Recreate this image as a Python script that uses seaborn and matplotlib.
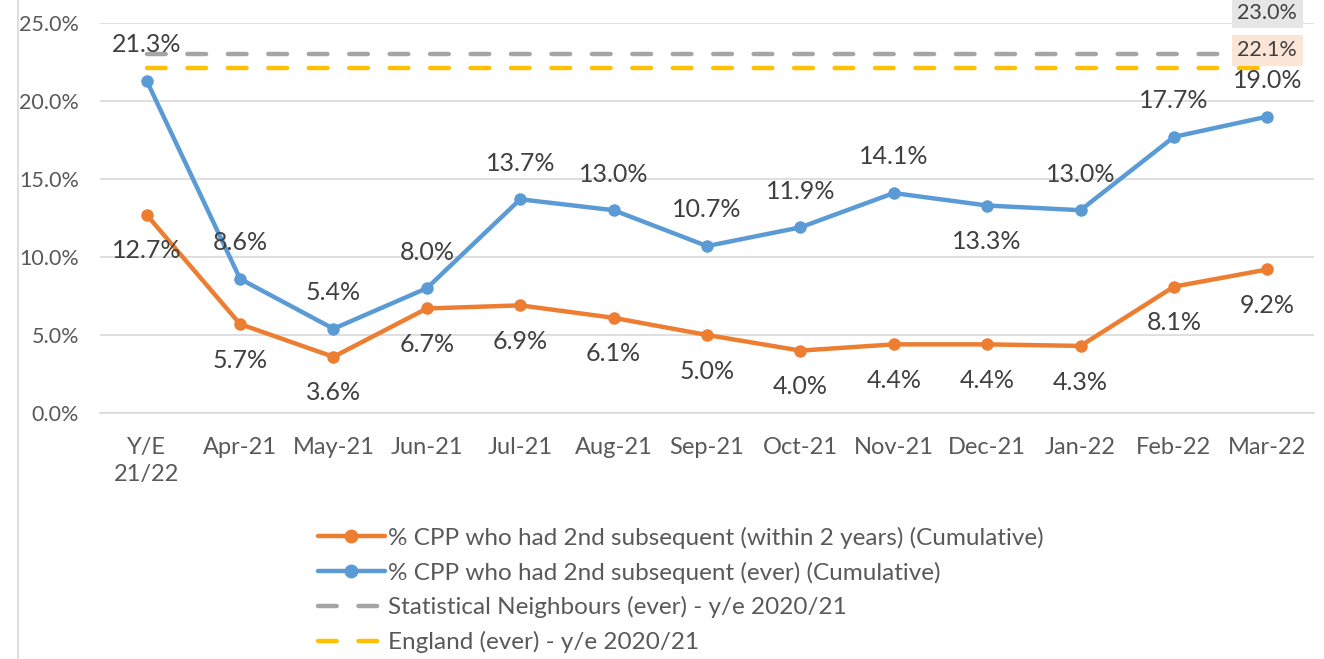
import numpy as np
import pandas as pd
import seaborn as sns
import matplotlib.pyplot as plt
from matplotlib.lines import Line2D
from matplotlib.ticker import PercentFormatter

# data
months = ['Y/E\n21/22', 'Apr-21', 'May-21', 'Jun-21', 'Jul-21', 'Aug-21', 'Sep-21',
          'Oct-21', 'Nov-21', 'Dec-21', 'Jan-22', 'Feb-22', 'Mar-22']
within_2yrs = [12.7, 5.7, 3.6, 6.7, 6.9, 6.1, 5.0, 4.0, 4.4, 4.4, 4.3, 8.1, 9.2]
ever = [21.3, 8.6, 5.4, 8.0, 13.7, 13.0, 10.7, 11.9, 14.1, 13.3, 13.0, 17.7, 19.0]
stat_neighbours = 23.0
england = 22.1
# label above (+1) or below (-1) the blue point
ever_label_side = [1, 1, 1, 1, 1, 1, 1, 1, 1, -1, 1, 1, 1]

names = ['% CPP who had 2nd subsequent (within 2 years) (Cumulative)',
         '% CPP who had 2nd subsequent (ever) (Cumulative)',
         'Statistical Neighbours (ever) - y/e 2020/21',
         'England (ever) - y/e 2020/21']
colors = ['#ED7D31', '#5B9BD5', '#A5A5A5', '#FFC000']

sns.set_style('white')
plt.rcParams['font.family'] = ['Lato', 'DejaVu Sans']
txt = '#595959'
lbl = '#404040'

df = pd.DataFrame({'x': np.arange(len(months)), 'within': within_2yrs, 'ever': ever,
                   'sn': stat_neighbours, 'eng': england})

fig = plt.figure(figsize=(13.24, 6.59), dpi=100)
ax = fig.add_axes([100 / 1324, 1 - 413 / 659, 1214 / 1324, 390 / 659])

dash = (4.2, 4.9)
sns.lineplot(data=df, x='x', y='sn', ax=ax, color=colors[2], lw=3.2)
ax.lines[-1].set_dashes(dash)
ax.lines[-1].set_dash_capstyle('round')
sns.lineplot(data=df, x='x', y='eng', ax=ax, color=colors[3], lw=3.2)
ax.lines[-1].set_dashes(dash)
ax.lines[-1].set_dash_capstyle('round')
sns.lineplot(data=df, x='x', y='within', ax=ax, color=colors[0], lw=3.2,
             marker='o', markersize=9, markeredgewidth=0)
sns.lineplot(data=df, x='x', y='ever', ax=ax, color=colors[1], lw=3.2,
             marker='o', markersize=9, markeredgewidth=0)

ax.set_xlim(-0.5, len(months) - 0.5)
ax.set_ylim(0, 25)
ax.set_yticks(np.arange(0, 26, 5))
ax.yaxis.set_major_formatter(PercentFormatter(decimals=1))
ax.set_xticks(np.arange(len(months)))
ax.set_xticklabels(months, linespacing=1.4)
ax.set_xticks(np.arange(-0.5, len(months), 1), minor=True)
ax.tick_params(axis='x', which='major', length=0, pad=17, labelsize=17, labelcolor=txt)
ax.tick_params(axis='x', which='minor', length=6, color='#D9D9D9', width=1.2)
ax.tick_params(axis='y', length=0, pad=15, labelsize=15.5, labelcolor=txt)
ax.grid(axis='y', color='#D9D9D9', lw=1.2)
ax.set_xlabel('')
ax.set_ylabel('')
for s in ['left', 'right', 'top']:
    ax.spines[s].set_visible(False)
ax.spines['bottom'].set_color('#D9D9D9')
ax.spines['bottom'].set_linewidth(1.2)

for i, (w, e) in enumerate(zip(within_2yrs, ever)):
    ax.annotate(f'{w:.1f}%', (i, w), xytext=(0, -26), textcoords='offset points',
                ha='center', va='center', fontsize=18, color=lbl)
    ax.annotate(f'{e:.1f}%', (i, e), xytext=(0, 26 * ever_label_side[i]),
                textcoords='offset points', ha='center', va='center',
                fontsize=18, color=lbl)

last = len(months) - 1
ax.annotate(f'{stat_neighbours:.1f}%', (last, stat_neighbours), xytext=(0, 30),
            textcoords='offset points', ha='center', va='center', fontsize=15.5,
            color=lbl, annotation_clip=False,
            bbox=dict(boxstyle='square,pad=0.25', fc='#E7E6E6', ec='none'))
ax.annotate(f'{england:.1f}%', (last, england), xytext=(0, 13),
            textcoords='offset points', ha='center', va='center', fontsize=15.5,
            color=lbl, annotation_clip=False,
            bbox=dict(boxstyle='square,pad=0.25', fc='#FBE5D6', ec='none'))

handles = [
    Line2D([], [], color=colors[0], lw=3.2, marker='o', markersize=9),
    Line2D([], [], color=colors[1], lw=3.2, marker='o', markersize=9),
    Line2D([], [], color=colors[2], lw=3.2, dashes=dash, dash_capstyle='round'),
    Line2D([], [], color=colors[3], lw=3.2, dashes=dash, dash_capstyle='round'),
]
leg = fig.legend(handles, names, loc='upper left', bbox_to_anchor=(296 / 1324, 1 - 505 / 659),
                 frameon=False, fontsize=17.5, handlelength=2.75, handletextpad=0.15,
                 labelspacing=0.52, labelcolor=txt)

fig.add_artist(Line2D([18 / 1324, 18 / 1324], [0, 1], color='#D9D9D9', lw=1.2))

fig.savefig('out.png', dpi=100)
